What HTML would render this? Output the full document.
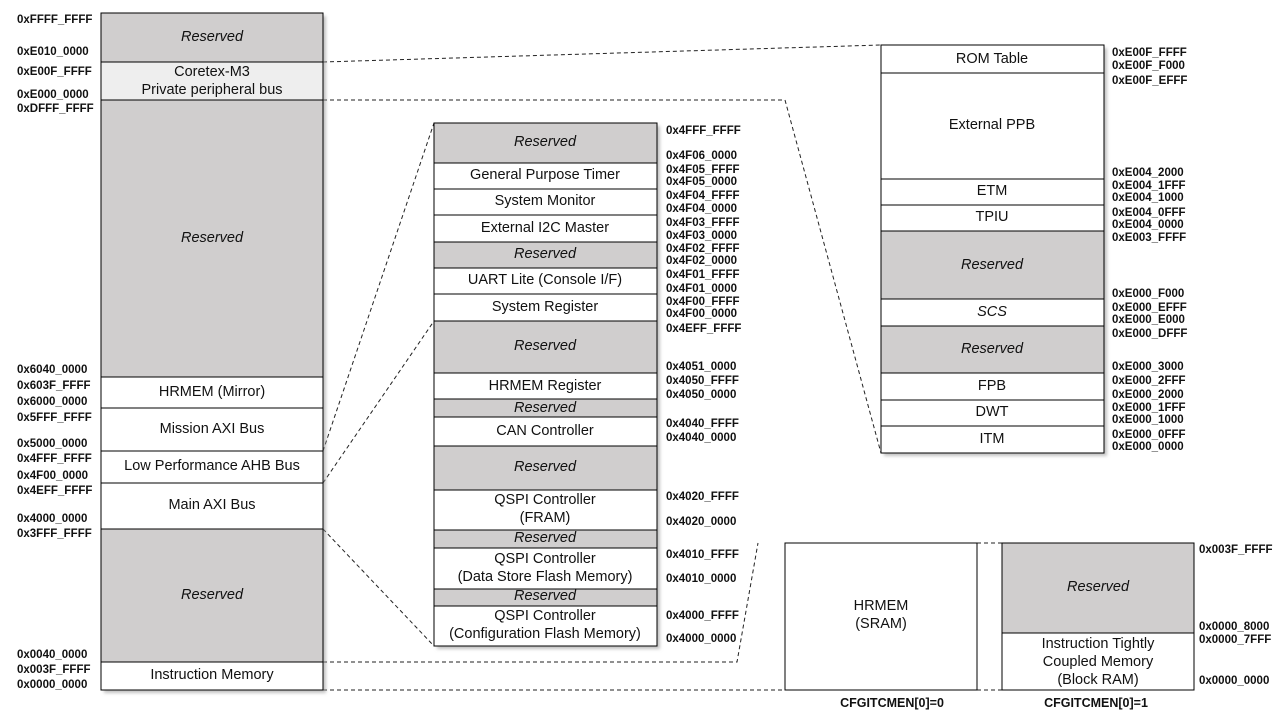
<!DOCTYPE html>
<html><head><meta charset="utf-8"><style>
html,body{margin:0;padding:0;background:#fff;}
svg{display:block;}
.a{font-family:"Liberation Sans",sans-serif;font-weight:bold;font-size:11.5px;fill:#111;}
.t{font-family:"Liberation Sans",sans-serif;font-size:14.5px;fill:#111;text-anchor:middle;}
.i{font-style:italic;}
.d{stroke:#222;stroke-width:1;stroke-dasharray:4,3;fill:none;}
</style></head><body>
<svg width="1280" height="720" viewBox="0 0 1280 720" xmlns="http://www.w3.org/2000/svg">
<defs><filter id="sh" x="-5%" y="-5%" width="115%" height="115%"><feDropShadow dx="3" dy="3" stdDeviation="1.5" flood-color="#999" flood-opacity="0.6"/></filter></defs>

<!-- dashed connectors -->
<path class="d" d="M323,62 L881,45"/>
<path class="d" d="M323,100 L785,100 L881,453"/>
<path class="d" d="M323,451 L434,123"/>
<path class="d" d="M323,483 L434,321"/>
<path class="d" d="M323,529 L434,646"/>
<path class="d" d="M323,662 L737,662 L758,543"/>
<path class="d" d="M323,690 L785,690"/>
<path class="d" d="M977,543 L1002,543"/>
<path class="d" d="M977,690 L1002,690"/>

<!-- Left column -->
<g filter="url(#sh)"><rect x="101" y="13" width="222" height="677" fill="#fff"/></g>
<g stroke="#000" stroke-width="1">
<rect x="101" y="13" width="222" height="49" fill="#d0cece"/>
<rect x="101" y="62" width="222" height="38" fill="#eeeeee"/>
<rect x="101" y="100" width="222" height="277" fill="#d0cece"/>
<rect x="101" y="377" width="222" height="31" fill="#fff"/>
<rect x="101" y="408" width="222" height="43" fill="#fff"/>
<rect x="101" y="451" width="222" height="32" fill="#fff"/>
<rect x="101" y="483" width="222" height="46" fill="#fff"/>
<rect x="101" y="529" width="222" height="133" fill="#d0cece"/>
<rect x="101" y="662" width="222" height="28" fill="#fff"/>
</g>
<text class="t i" x="212" y="41">Reserved</text>
<text class="t" x="212" y="76">Coretex-M3</text>
<text class="t" x="212" y="94">Private peripheral bus</text>
<text class="t i" x="212" y="242">Reserved</text>
<text class="t" x="212" y="396">HRMEM (Mirror)</text>
<text class="t" x="212" y="433">Mission AXI Bus</text>
<text class="t" x="212" y="470">Low Performance AHB Bus</text>
<text class="t" x="212" y="509">Main AXI Bus</text>
<text class="t i" x="212" y="599">Reserved</text>
<text class="t" x="212" y="679">Instruction Memory</text>

<g class="a">
<text x="17" y="23">0xFFFF_FFFF</text>
<text x="17" y="55">0xE010_0000</text>
<text x="17" y="75">0xE00F_FFFF</text>
<text x="17" y="98">0xE000_0000</text>
<text x="17" y="112">0xDFFF_FFFF</text>
<text x="17" y="373">0x6040_0000</text>
<text x="17" y="389">0x603F_FFFF</text>
<text x="17" y="405">0x6000_0000</text>
<text x="17" y="421">0x5FFF_FFFF</text>
<text x="17" y="447">0x5000_0000</text>
<text x="17" y="462">0x4FFF_FFFF</text>
<text x="17" y="479">0x4F00_0000</text>
<text x="17" y="494">0x4EFF_FFFF</text>
<text x="17" y="522">0x4000_0000</text>
<text x="17" y="537">0x3FFF_FFFF</text>
<text x="17" y="658">0x0040_0000</text>
<text x="17" y="673">0x003F_FFFF</text>
<text x="17" y="688">0x0000_0000</text>
</g>

<!-- Middle column -->
<g filter="url(#sh)"><rect x="434" y="123" width="223" height="523" fill="#fff"/></g>
<g stroke="#000" stroke-width="1">
<rect x="434" y="123" width="223" height="40" fill="#d0cece"/>
<rect x="434" y="163" width="223" height="26" fill="#fff"/>
<rect x="434" y="189" width="223" height="26" fill="#fff"/>
<rect x="434" y="215" width="223" height="27" fill="#fff"/>
<rect x="434" y="242" width="223" height="26" fill="#d0cece"/>
<rect x="434" y="268" width="223" height="26" fill="#fff"/>
<rect x="434" y="294" width="223" height="27" fill="#fff"/>
<rect x="434" y="321" width="223" height="52" fill="#d0cece"/>
<rect x="434" y="373" width="223" height="26" fill="#fff"/>
<rect x="434" y="399" width="223" height="18" fill="#d0cece"/>
<rect x="434" y="417" width="223" height="29" fill="#fff"/>
<rect x="434" y="446" width="223" height="44" fill="#d0cece"/>
<rect x="434" y="490" width="223" height="40" fill="#fff"/>
<rect x="434" y="530" width="223" height="18" fill="#d0cece"/>
<rect x="434" y="548" width="223" height="41" fill="#fff"/>
<rect x="434" y="589" width="223" height="17" fill="#d0cece"/>
<rect x="434" y="606" width="223" height="40" fill="#fff"/>
</g>
<g>
<text class="t i" x="545" y="146">Reserved</text>
<text class="t" x="545" y="179">General Purpose Timer</text>
<text class="t" x="545" y="205">System Monitor</text>
<text class="t" x="545" y="232">External I2C Master</text>
<text class="t i" x="545" y="258">Reserved</text>
<text class="t" x="545" y="284">UART Lite (Console I/F)</text>
<text class="t" x="545" y="311">System Register</text>
<text class="t i" x="545" y="350">Reserved</text>
<text class="t" x="545" y="390">HRMEM Register</text>
<text class="t i" x="545" y="412">Reserved</text>
<text class="t" x="545" y="435">CAN Controller</text>
<text class="t i" x="545" y="471">Reserved</text>
<text class="t" x="545" y="504">QSPI Controller</text>
<text class="t" x="545" y="522">(FRAM)</text>
<text class="t i" x="545" y="542">Reserved</text>
<text class="t" x="545" y="563">QSPI Controller</text>
<text class="t" x="545" y="581">(Data Store Flash Memory)</text>
<text class="t i" x="545" y="600">Reserved</text>
<text class="t" x="545" y="620">QSPI Controller</text>
<text class="t" x="545" y="638">(Configuration Flash Memory)</text>
</g>
<g class="a">
<text x="666" y="134">0x4FFF_FFFF</text>
<text x="666" y="159">0x4F06_0000</text>
<text x="666" y="173">0x4F05_FFFF</text>
<text x="666" y="185">0x4F05_0000</text>
<text x="666" y="199">0x4F04_FFFF</text>
<text x="666" y="212">0x4F04_0000</text>
<text x="666" y="226">0x4F03_FFFF</text>
<text x="666" y="239">0x4F03_0000</text>
<text x="666" y="252">0x4F02_FFFF</text>
<text x="666" y="264">0x4F02_0000</text>
<text x="666" y="278">0x4F01_FFFF</text>
<text x="666" y="292">0x4F01_0000</text>
<text x="666" y="305">0x4F00_FFFF</text>
<text x="666" y="317">0x4F00_0000</text>
<text x="666" y="332">0x4EFF_FFFF</text>
<text x="666" y="370">0x4051_0000</text>
<text x="666" y="384">0x4050_FFFF</text>
<text x="666" y="398">0x4050_0000</text>
<text x="666" y="427">0x4040_FFFF</text>
<text x="666" y="441">0x4040_0000</text>
<text x="666" y="500">0x4020_FFFF</text>
<text x="666" y="525">0x4020_0000</text>
<text x="666" y="558">0x4010_FFFF</text>
<text x="666" y="582">0x4010_0000</text>
<text x="666" y="619">0x4000_FFFF</text>
<text x="666" y="642">0x4000_0000</text>
</g>

<!-- Right column -->
<g filter="url(#sh)"><rect x="881" y="45" width="223" height="408" fill="#fff"/></g>
<g stroke="#000" stroke-width="1">
<rect x="881" y="45" width="223" height="28" fill="#fff"/>
<rect x="881" y="73" width="223" height="106" fill="#fff"/>
<rect x="881" y="179" width="223" height="26" fill="#fff"/>
<rect x="881" y="205" width="223" height="26" fill="#fff"/>
<rect x="881" y="231" width="223" height="68" fill="#d0cece"/>
<rect x="881" y="299" width="223" height="27" fill="#fff"/>
<rect x="881" y="326" width="223" height="47" fill="#d0cece"/>
<rect x="881" y="373" width="223" height="27" fill="#fff"/>
<rect x="881" y="400" width="223" height="26" fill="#fff"/>
<rect x="881" y="426" width="223" height="27" fill="#fff"/>
</g>
<text class="t" x="992" y="63">ROM Table</text>
<text class="t" x="992" y="129">External PPB</text>
<text class="t" x="992" y="195">ETM</text>
<text class="t" x="992" y="221">TPIU</text>
<text class="t i" x="992" y="269">Reserved</text>
<text class="t i" x="992" y="316">SCS</text>
<text class="t i" x="992" y="353">Reserved</text>
<text class="t" x="992" y="390">FPB</text>
<text class="t" x="992" y="416">DWT</text>
<text class="t" x="992" y="443">ITM</text>
<g class="a">
<text x="1112" y="56">0xE00F_FFFF</text>
<text x="1112" y="69">0xE00F_F000</text>
<text x="1112" y="84">0xE00F_EFFF</text>
<text x="1112" y="176">0xE004_2000</text>
<text x="1112" y="189">0xE004_1FFF</text>
<text x="1112" y="201">0xE004_1000</text>
<text x="1112" y="216">0xE004_0FFF</text>
<text x="1112" y="228">0xE004_0000</text>
<text x="1112" y="241">0xE003_FFFF</text>
<text x="1112" y="297">0xE000_F000</text>
<text x="1112" y="311">0xE000_EFFF</text>
<text x="1112" y="323">0xE000_E000</text>
<text x="1112" y="337">0xE000_DFFF</text>
<text x="1112" y="370">0xE000_3000</text>
<text x="1112" y="384">0xE000_2FFF</text>
<text x="1112" y="398">0xE000_2000</text>
<text x="1112" y="411">0xE000_1FFF</text>
<text x="1112" y="423">0xE000_1000</text>
<text x="1112" y="438">0xE000_0FFF</text>
<text x="1112" y="450">0xE000_0000</text>
</g>

<!-- Bottom right boxes -->
<rect x="785" y="543" width="192" height="147" fill="#fff" stroke="#000"/>
<text class="t" x="881" y="610">HRMEM</text>
<text class="t" x="881" y="628">(SRAM)</text>
<rect x="1002" y="543" width="192" height="90" fill="#d0cece" stroke="#000"/>
<rect x="1002" y="633" width="192" height="57" fill="#fff" stroke="#000"/>
<text class="t i" x="1098" y="591">Reserved</text>
<text class="t" x="1098" y="648">Instruction Tightly</text>
<text class="t" x="1098" y="666">Coupled Memory</text>
<text class="t" x="1098" y="684">(Block RAM)</text>
<g class="a">
<text x="1199" y="553">0x003F_FFFF</text>
<text x="1199" y="630">0x0000_8000</text>
<text x="1199" y="643">0x0000_7FFF</text>
<text x="1199" y="684">0x0000_0000</text>
<text x="892" y="707" text-anchor="middle" font-size="12.5">CFGITCMEN[0]=0</text>
<text x="1096" y="707" text-anchor="middle" font-size="12.5">CFGITCMEN[0]=1</text>
</g>
</svg>
</body></html>
